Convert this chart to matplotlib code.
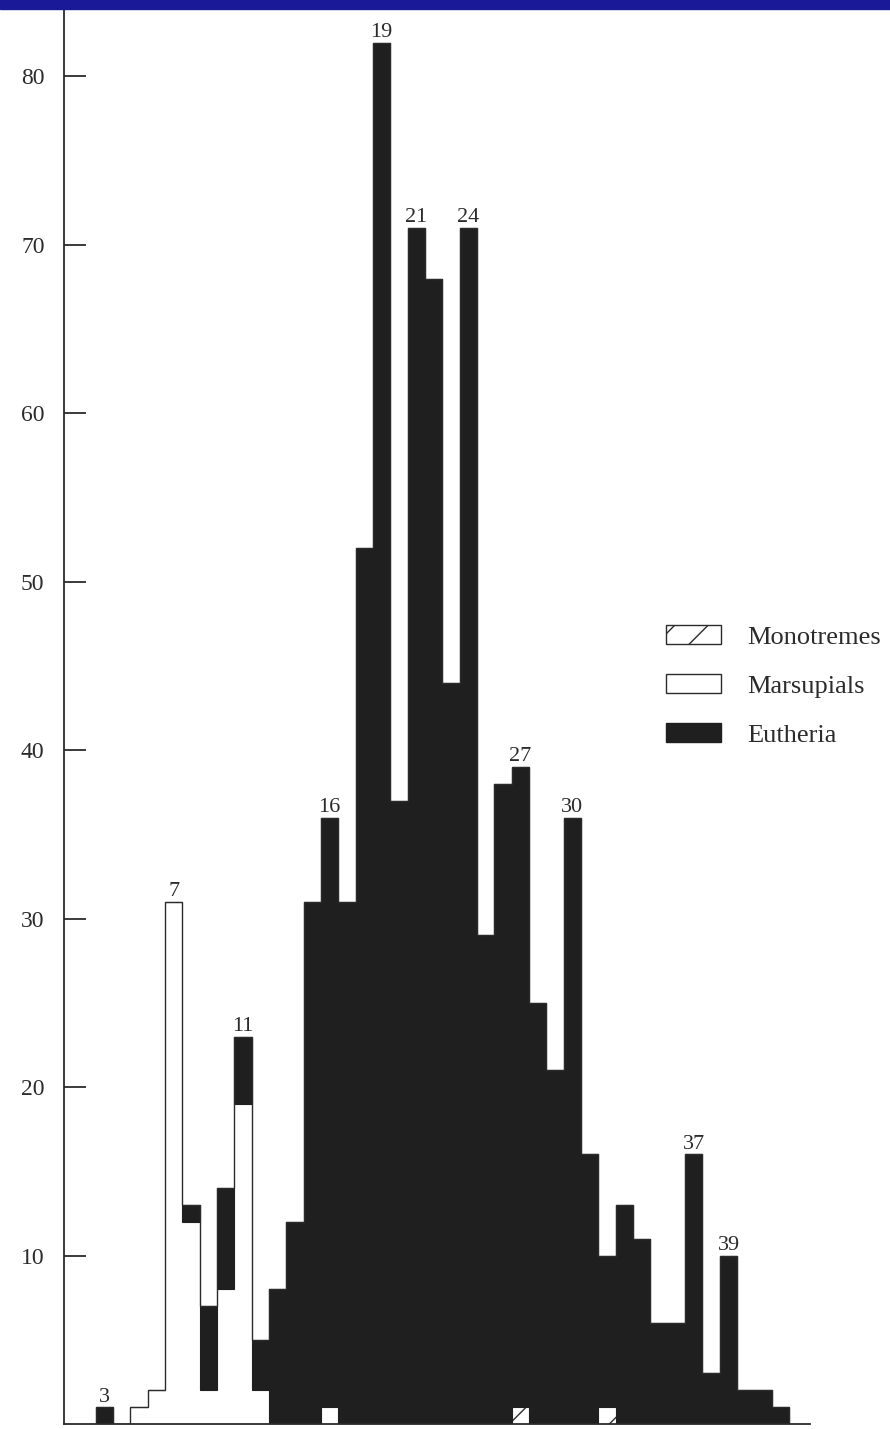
import numpy as np
import matplotlib
matplotlib.use("Agg")
import matplotlib.pyplot as plt
from matplotlib.patches import Patch, Rectangle

plt.rcParams["font.family"] = ["Liberation Serif", "DejaVu Serif"]

# numero de cromosomas (clases del histograma)
bins = np.arange(3, 43)
# cuentas por grupo
monotremes = np.array([0, 0, 0, 0, 0, 0, 0, 0, 0, 0,
                       0, 0, 0, 0, 0, 0, 0, 0, 0, 0,
                       0, 0, 0, 0, 1, 0, 0, 0, 0, 1,
                       0, 0, 0, 0, 0, 0, 0, 0, 0, 0])
marsupials = np.array([0, 0, 1, 2, 31, 12, 2, 8, 19, 2,
                       0, 0, 0, 1, 0, 0, 0, 0, 0, 0,
                       0, 0, 0, 0, 0, 0, 0, 0, 0, 0,
                       0, 0, 0, 0, 0, 0, 0, 0, 0, 0])
eutheria = np.array([1, 0, 0, 0, 0, 1, 5, 6, 4, 3,
                     8, 12, 31, 35, 31, 52, 82, 37, 71, 68,
                     44, 71, 29, 38, 38, 25, 21, 36, 16, 9,
                     13, 11, 6, 6, 16, 3, 10, 2, 2, 1])
labelled_bins = [3, 7, 11, 16, 19, 21, 24, 27, 30, 37, 39]
yticks = [10, 20, 30, 40, 50, 60, 70, 80]
legend_labels = ["Monotremes", "Marsupials", "Eutheria"]

ink = "#2b2b2b"
black = "#1f1f1f"

fig = plt.figure(figsize=(8.9, 14.29), dpi=100)
ax = fig.add_axes([64 / 890, 5 / 1429, 746 / 890, 1415 / 1429])

total = monotremes + marsupials + eutheria

ax.bar(bins, monotremes, width=1.0, color="white", edgecolor=ink,
       linewidth=0, hatch="/")
ax.bar(bins, marsupials, width=1.0, bottom=monotremes, color="white",
       linewidth=0)
ax.bar(bins, eutheria, width=1.0, bottom=monotremes + marsupials,
       color=black, edgecolor=black, linewidth=0.8)

# contorno escalonado del total
edges = np.append(bins - 0.5, bins[-1] + 0.5)
ax.stairs(total, edges, color=ink, linewidth=1.0, baseline=0, zorder=3)

for b in labelled_bins:
    ax.annotate(str(b), (b, total[b - bins[0]]), xytext=(0, 4),
                textcoords="offset points", ha="center", va="baseline",
                fontsize=16, color=ink)

ax.set_xlim(0.675, 43.7)
ax.set_ylim(0, 84)
ax.set_yticks(yticks)
ax.set_xticks([])
ax.tick_params(axis="y", direction="in", length=16, width=1.3, pad=14,
               labelsize=17, colors=ink)
for s in ["top", "right"]:
    ax.spines[s].set_visible(False)
for s in ["left", "bottom"]:
    ax.spines[s].set_color(ink)
    ax.spines[s].set_linewidth(1.3)

handles = [Patch(facecolor="white", edgecolor=ink, hatch="/", linewidth=1.0),
           Patch(facecolor="white", edgecolor=ink, linewidth=1.0),
           Patch(facecolor=black, edgecolor=black, linewidth=1.0)]
ax.legend(handles, legend_labels, loc="center left",
          bbox_to_anchor=(578 / 746, (1424 - 686) / 1415), frameon=False,
          fontsize=19, handlelength=2.1, handleheight=0.72,
          handletextpad=1.0, labelspacing=0.95, labelcolor=ink)

# franja azul superior
fig.add_artist(Rectangle((0, 1 - 9 / 1429), 1, 9 / 1429,
                         transform=fig.transFigure, color="#1a1a99",
                         zorder=10))

fig.savefig("out.png", dpi=100)
